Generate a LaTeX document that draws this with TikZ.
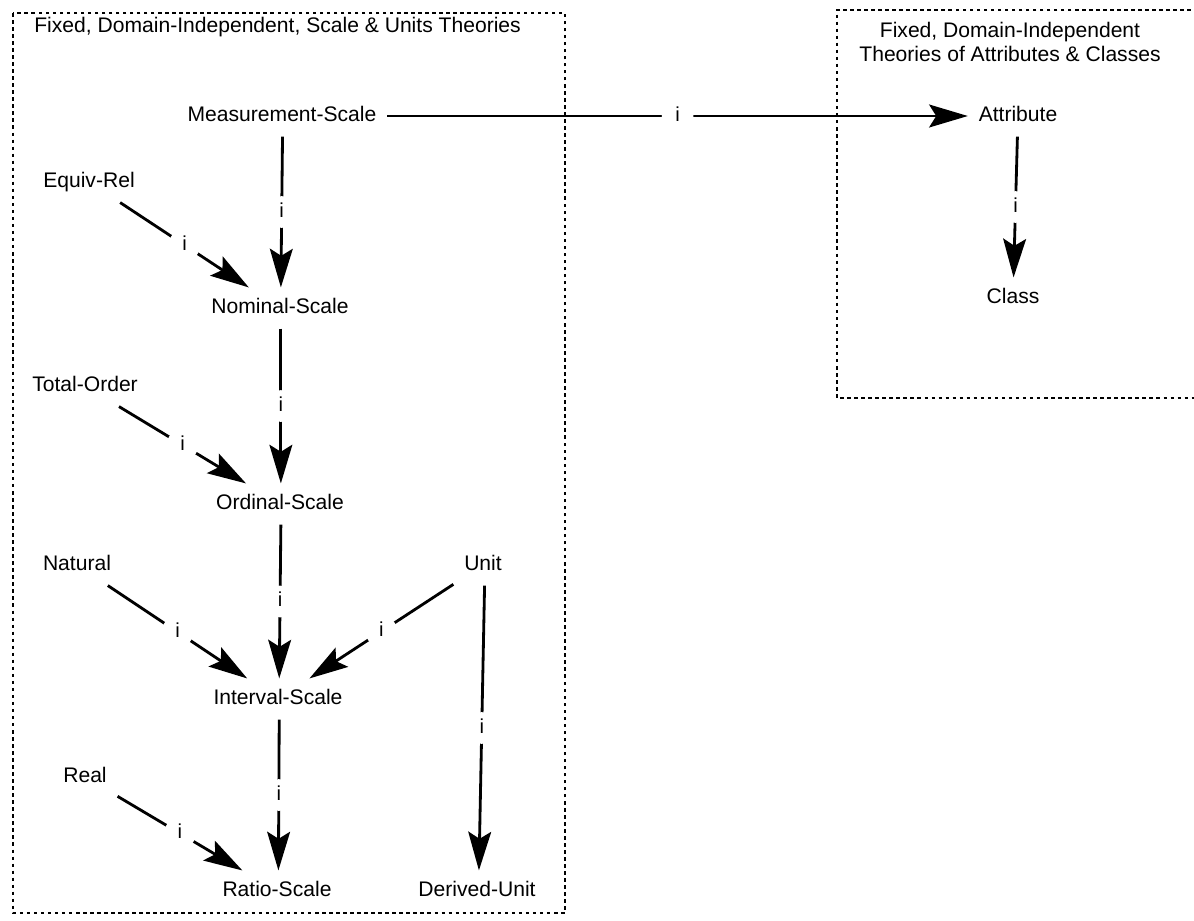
\documentclass[tikz,border=0pt]{standalone}
\usepackage{fontspec}
\setmainfont{Liberation Sans}
\usetikzlibrary{arrows.meta}
\begin{document}
\begin{tikzpicture}[scale=0.2,
  font=\fontsize{12}{14}\selectfont,
  box/.style={line width=1.3pt, dash pattern=on 2pt off 2pt},
  arr/.style={line width=1.6pt, -{Stealth[length=22pt,width=13pt,inset=4pt]}},
  gap/.style={circle, fill=white, inner sep=0pt, minimum size=18pt, font=\fontsize{11.5}{13}\selectfont}]
  \tikzstyle{every node}+=[inner sep=6pt, text height=8.5pt, text depth=2.5pt]
  \useasboundingbox (0,0) rectangle (119.4,-92);
  \draw [box] (1.3,-1.3) rectangle (56.5,-91.3);
  \draw [box] (119.8,-1.0) -| (83.7,-39.8) -- (119.8,-39.8);
  \node [anchor=west, inner sep=0pt] (lefttitle) at (3.4,-2.7) {Fixed, Domain-Independent, Scale \& Units Theories};
  \node [align=center, inner sep=0pt, text height=, text depth=] (righttitle) at (101.0,-4.2) {Fixed, Domain-Independent\\Theories of Attributes \& Classes};
  \node (ms) at (28.2,-11.6) {Measurement-Scale};
  \node (eq) at (8.9,-18.2) {Equiv-Rel};
  \node (nom) at (28.0,-30.8) {Nominal-Scale};
  \node (tot) at (8.5,-38.6) {Total-Order};
  \node (ord) at (28.0,-50.4) {Ordinal-Scale};
  \node (nat) at (7.7,-56.5) {Natural};
  \node (unit) at (48.3,-56.5) {Unit};
  \node (int) at (27.8,-69.9) {Interval-Scale};
  \node (real) at (8.5,-77.7) {Real};
  \node (ratio) at (27.7,-89.1) {Ratio-Scale};
  \node (der) at (47.7,-89.1) {Derived-Unit};
  \node (attr) at (101.8,-11.6) {Attribute};
  \node (cls) at (101.3,-29.8) {Class};
  \draw [arr] (ms) -- node [gap] {i} (attr);
  \draw [arr] (attr) -- node [gap] {i} (cls);
  \draw [arr] ([xshift=1.5pt]ms.south) -- node [gap] {i} ([xshift=2.5pt]nom.north);
  \draw [arr] (eq) -- node [gap] {i} (nom);
  \draw [arr] ([xshift=2.5pt]nom.south) -- node [gap] {i} ([xshift=2.5pt]ord.north);
  \draw [arr] (tot) -- node [gap] {i} (ord);
  \draw [arr] ([xshift=2.5pt]ord.south) -- node [gap] {i} ([xshift=3.5pt]int.north);
  \draw [arr] (nat) -- node [gap] {i} (int);
  \draw [arr] (unit) -- node [gap] {i} (int);
  \draw [arr] ([xshift=3.5pt]int.south) -- node [gap] {i} ([xshift=4pt]ratio.north);
  \draw [arr] (real) -- node [gap] {i} (ratio);
  \draw [arr] ([xshift=4.5pt]unit.south) -- node [gap] {i} ([xshift=5.5pt]der.north);
\end{tikzpicture}
\end{document}
